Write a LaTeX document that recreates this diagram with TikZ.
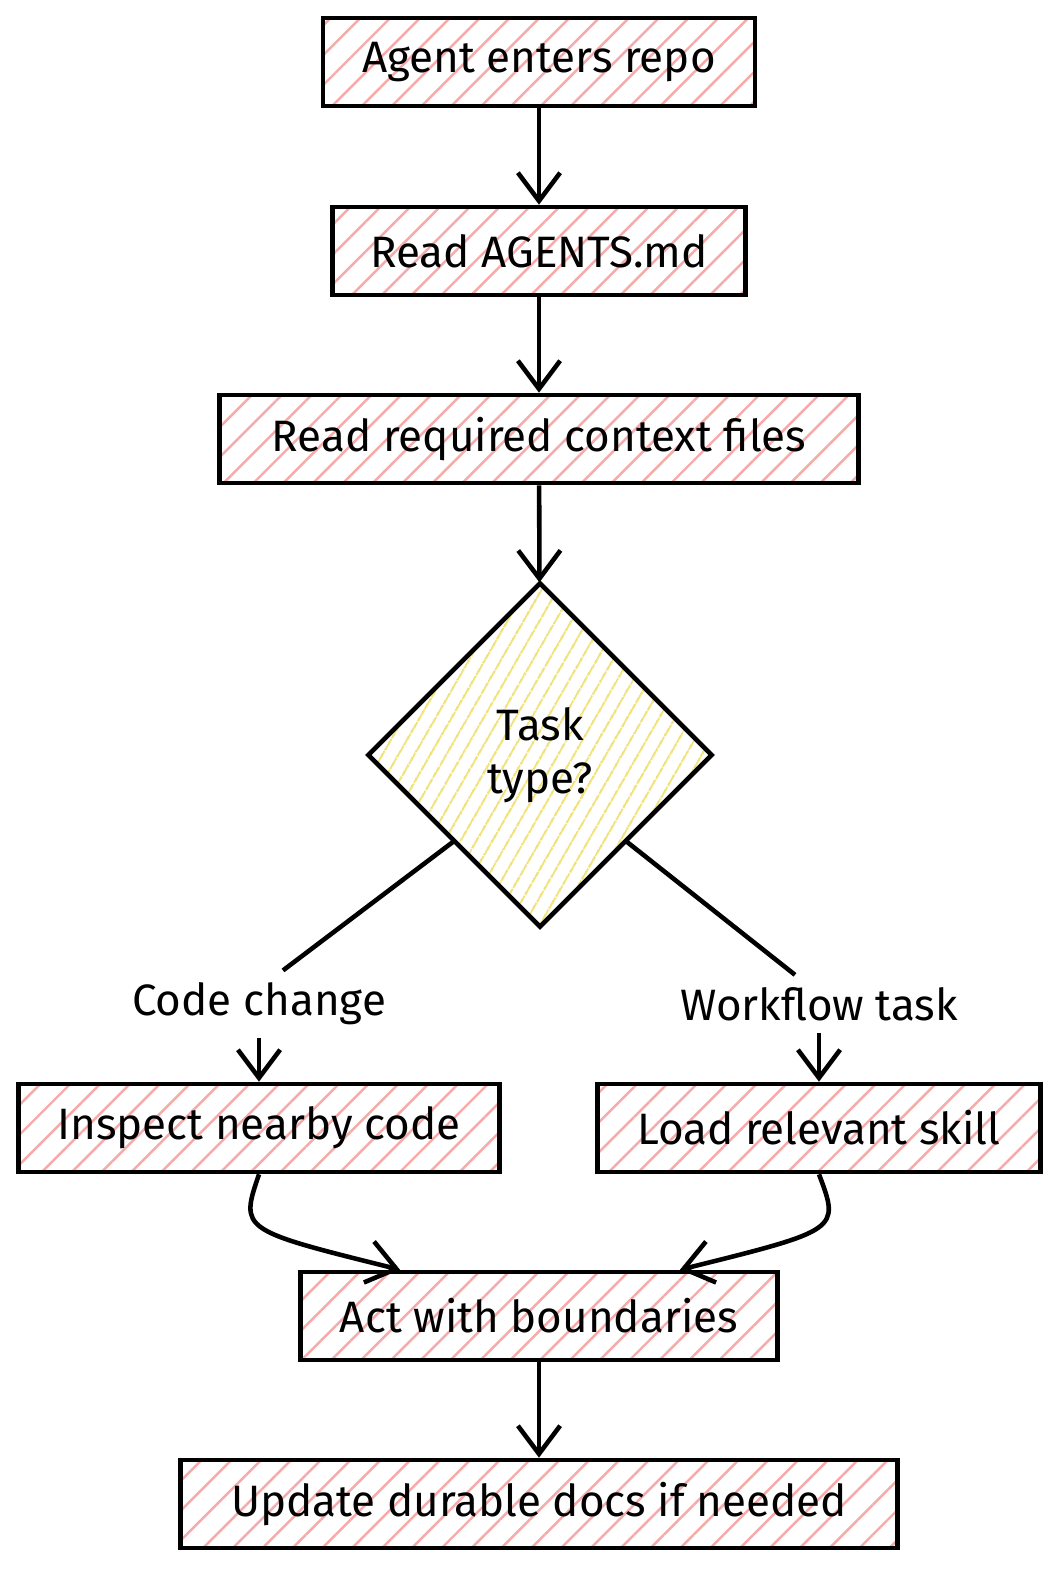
\documentclass[tikz,border=0pt]{standalone}
\usepackage{fontspec}
\setmainfont{Fira Sans}
\usetikzlibrary{shapes.geometric, arrows.meta, patterns.meta, calc}
\definecolor{hatchred}{RGB}{246,170,170}
\definecolor{hatchyel}{RGB}{240,226,120}
\tikzset{
	stage/.style={draw, line width=1.3pt, pattern={Lines[angle=45,distance=6pt,line width=0.7pt]}, pattern color=hatchred,
		minimum height=0.88cm, inner sep=0pt, font=\fontsize{12.5}{15}\selectfont},
	choice/.style={draw, diamond, line width=1.3pt, pattern={Lines[angle=60,distance=4pt,line width=0.6pt]}, pattern color=hatchyel,
		minimum width=3.44cm, minimum height=3.44cm, inner sep=0pt, align=center, font=\fontsize{12.5}{15}\selectfont},
	flow/.style={-{Straight Barb[length=8pt,width=12pt]}, line width=1.3pt},
	tag/.style={font=\fontsize{12.5}{15}\selectfont},
}
\begin{document}
\begin{tikzpicture}[x=0.01cm,y=-0.01cm]
	\useasboundingbox (0,0) rectangle (1064,1572);
	\node[stage, minimum width=4.32cm] (enter) at (539,62) {Agent enters repo};
	\node[stage, minimum width=4.13cm] (agents) at (539,251) {Read AGENTS.md};
	\node[stage, minimum width=6.39cm] (context) at (539,439) {Read required context files};
	\node[choice] (task) at (540,755) {Task\\type?};
	\node[tag] (codelbl) at (259,1004) {Code change};
	\node[tag] (worklbl) at (819,1004) {Workflow task};
	\node[stage, minimum width=4.81cm] (inspect) at (259,1128) {Inspect nearby code};
	\node[stage, minimum width=4.43cm] (skill) at (819,1128) {Load relevant skill};
	\node[stage, minimum width=4.77cm] (act) at (539,1316) {Act with boundaries};
	\node[stage, minimum width=7.17cm] (docs) at (539,1504) {Update durable docs if needed};
	% connectors
	\draw[flow] (enter) -- (agents);
	\draw[flow] (agents) -- (context);
	\draw[flow] (context) -- (task);
	\draw[line width=1.3pt] ($(task.south)!0.5!(task.west)$) -- ($(codelbl.north)+(24,0)$);
	\draw[line width=1.3pt] ($(task.south)!0.5!(task.east)$) -- ($(worklbl.north)+(-24,0)$);
	\draw[flow] (codelbl) -- (inspect);
	\draw[flow] (worklbl) -- (skill);
	\draw[flow] (inspect.south) .. controls (240,1230) .. (act.north west -| 400,0);
	\draw[flow] (skill.south) .. controls (840,1230) .. (act.north east -| 680,0);
	\draw[flow] (act) -- (docs);
\end{tikzpicture}
\end{document}
